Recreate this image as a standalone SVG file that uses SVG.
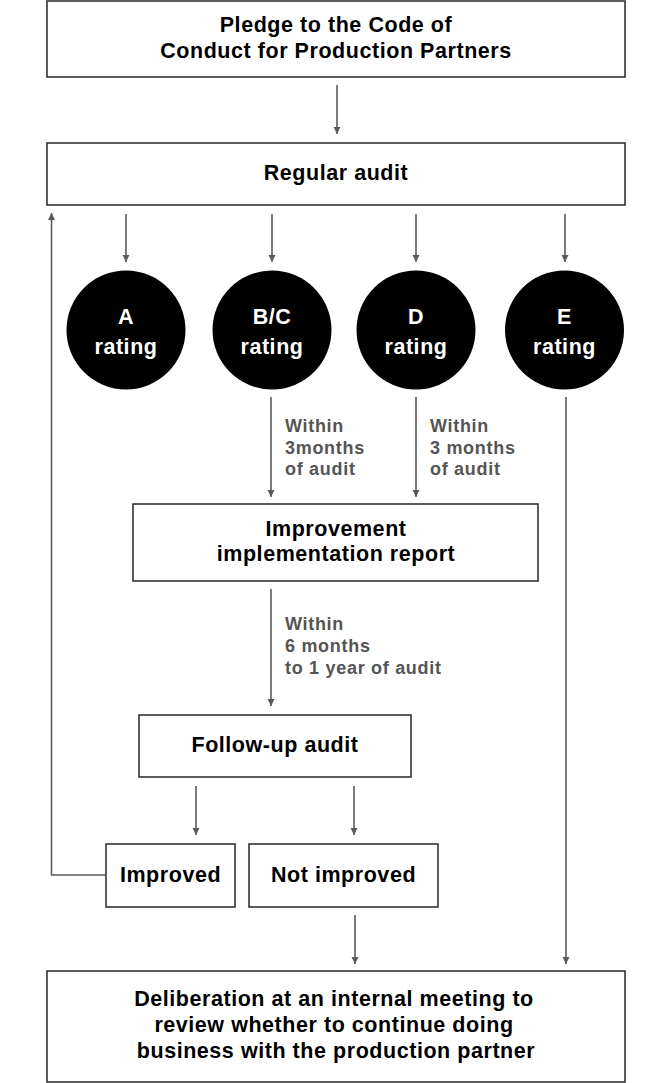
<svg xmlns="http://www.w3.org/2000/svg" width="670" height="1083" viewBox="0 0 670 1083">
<defs>
<marker id="ah" markerUnits="userSpaceOnUse" markerWidth="8" markerHeight="8" refX="7" refY="3.5" orient="auto">
<path d="M0,0 L7,3.5 L0,7 z" fill="#5a5a5a"/>
</marker>
<style>
.box{fill:#fff;stroke:#333;stroke-width:1.6}
.t{font-family:"Liberation Sans",Arial,sans-serif;font-weight:bold;font-size:21.5px;letter-spacing:0.55px;fill:#000;text-anchor:middle}
.w{font-family:"Liberation Sans",Arial,sans-serif;font-weight:bold;font-size:21.5px;letter-spacing:0.55px;fill:#fff;text-anchor:middle}
.lbl{font-family:"Liberation Sans",Arial,sans-serif;font-weight:bold;font-size:18px;letter-spacing:0.7px;fill:#555}
.c{stroke:#5a5a5a;stroke-width:1.6;fill:none}
.dot{fill:#000}
</style>
</defs>
<rect width="670" height="1083" fill="#fff"/>

<g id="connectors">
<line class="c" x1="337" y1="85" x2="337" y2="134" marker-end="url(#ah)"/>
<line class="c" x1="126" y1="214" x2="126" y2="262" marker-end="url(#ah)"/>
<line class="c" x1="272" y1="214" x2="272" y2="262" marker-end="url(#ah)"/>
<line class="c" x1="416" y1="214" x2="416" y2="262" marker-end="url(#ah)"/>
<line class="c" x1="565" y1="214" x2="565" y2="262" marker-end="url(#ah)"/>
<line class="c" x1="271" y1="397" x2="271" y2="497" marker-end="url(#ah)"/>
<line class="c" x1="416" y1="397" x2="416" y2="497" marker-end="url(#ah)"/>
<line class="c" x1="566" y1="397" x2="566" y2="964" marker-end="url(#ah)"/>
<line class="c" x1="271" y1="589" x2="271" y2="706" marker-end="url(#ah)"/>
<line class="c" x1="196" y1="786" x2="196" y2="835" marker-end="url(#ah)"/>
<line class="c" x1="354" y1="786" x2="354" y2="835" marker-end="url(#ah)"/>
<line class="c" x1="355" y1="915" x2="355" y2="964" marker-end="url(#ah)"/>
<polyline class="c" points="106,875 51.5,875 51.5,213" marker-end="url(#ah)"/>
<text class="lbl" x="285" y="432">Within</text>
<text class="lbl" x="285" y="453.5">3months</text>
<text class="lbl" x="285" y="475">of audit</text>
<text class="lbl" x="430" y="432">Within</text>
<text class="lbl" x="430" y="453.5">3 months</text>
<text class="lbl" x="430" y="475">of audit</text>
<text class="lbl" x="285" y="630">Within</text>
<text class="lbl" x="285" y="652">6 months</text>
<text class="lbl" x="285" y="673.5">to 1 year of audit</text>
</g>

<g id="pledge">
<rect class="box" x="47" y="1" width="578" height="76"/>
<text class="t" x="336" y="32">Pledge to the Code of</text>
<text class="t" x="336" y="58">Conduct for Production Partners</text>
</g>

<g id="regular-audit">
<rect class="box" x="47" y="143" width="578" height="62"/>
<text class="t" x="336" y="180">Regular audit</text>
</g>

<g id="rating-a">
<circle class="dot" cx="126" cy="330" r="59.5"/>
<text class="w" x="126" y="324">A</text>
<text class="w" x="126" y="354">rating</text>
</g>
<g id="rating-bc">
<circle class="dot" cx="272" cy="330" r="59.5"/>
<text class="w" x="272" y="324">B/C</text>
<text class="w" x="272" y="354">rating</text>
</g>
<g id="rating-d">
<circle class="dot" cx="416" cy="330" r="59.5"/>
<text class="w" x="416" y="324">D</text>
<text class="w" x="416" y="354">rating</text>
</g>
<g id="rating-e">
<circle class="dot" cx="564.5" cy="330" r="59.5"/>
<text class="w" x="564.5" y="324">E</text>
<text class="w" x="564.5" y="354">rating</text>
</g>

<g id="improvement-report">
<rect class="box" x="133" y="504" width="405" height="77"/>
<text class="t" x="336" y="536">Improvement</text>
<text class="t" x="336" y="561">implementation report</text>
</g>

<g id="follow-up-audit">
<rect class="box" x="139" y="715" width="272" height="62"/>
<text class="t" x="275" y="752">Follow-up audit</text>
</g>

<g id="improved">
<rect class="box" x="106" y="844" width="129" height="63"/>
<text class="t" x="170.5" y="882">Improved</text>
</g>

<g id="not-improved">
<rect class="box" x="249" y="844" width="189" height="63"/>
<text class="t" x="343.5" y="882">Not improved</text>
</g>

<g id="deliberation">
<rect class="box" x="47" y="971" width="578" height="111"/>
<text class="t" x="334" y="1006">Deliberation at an internal meeting to</text>
<text class="t" x="334" y="1032">review whether to continue doing</text>
<text class="t" x="336" y="1058">business with the production partner</text>
</g>
</svg>
